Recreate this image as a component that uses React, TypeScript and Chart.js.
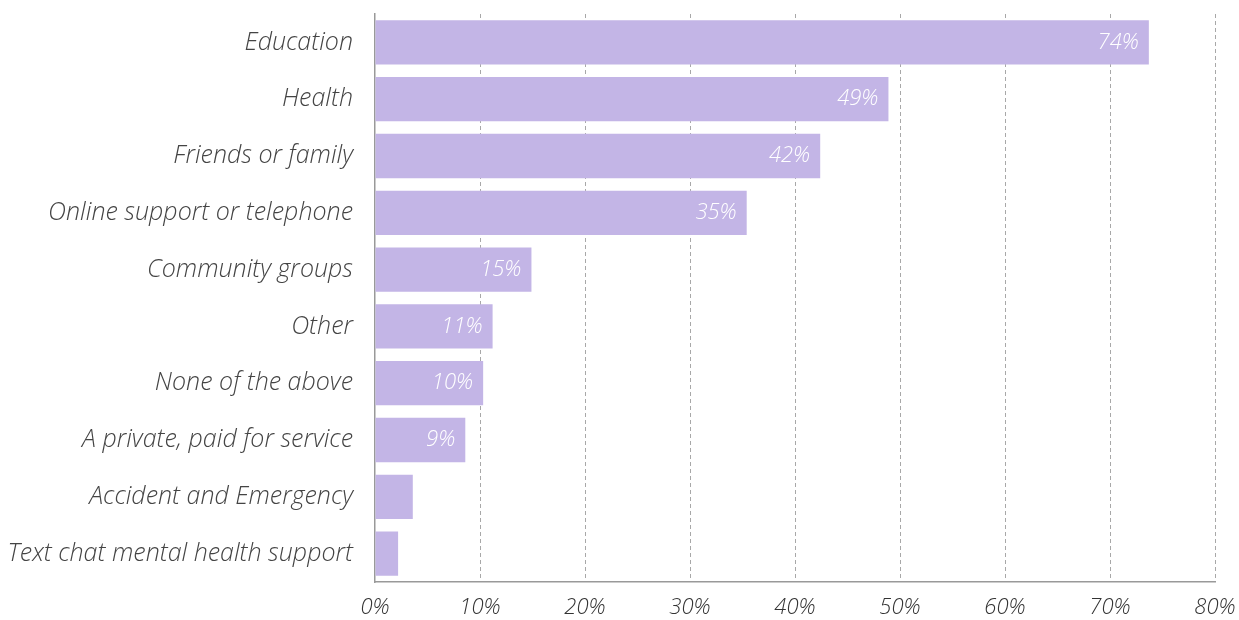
import React, { useEffect, useRef } from "react";
import { Chart, registerables } from "chart.js";

Chart.register(...registerables);

const categories = [
  "Education",
  "Health",
  "Friends or family",
  "Online support or telephone",
  "Community groups",
  "Other",
  "None of the above",
  "A private, paid for service",
  "Accident and Emergency",
  "Text chat mental health support",
];
const values = [73.7, 48.9, 42.4, 35.4, 14.9, 11.2, 10.3, 8.6, 3.6, 2.2];
const valueLabels = ["74%", "49%", "42%", "35%", "15%", "11%", "10%", "9%", "", ""];
const xTicks = [0, 10, 20, 30, 40, 50, 60, 70, 80];

const FONT = "'Open Sans'";

const barLabelPlugin = {
  id: "barLabels",
  afterDatasetsDraw(chart: any) {
    const ctx = chart.ctx;
    const meta = chart.getDatasetMeta(0);
    ctx.save();
    ctx.fillStyle = "#ffffff";
    ctx.font = `italic 300 22px ${FONT}`;
    ctx.textAlign = "right";
    ctx.textBaseline = "middle";
    meta.data.forEach((bar: any, i: number) => {
      const t = valueLabels[i];
      if (!t) return;
      ctx.fillText(t, bar.x - 10, bar.y);
    });
    ctx.restore();
  },
};

export default function App() {
  const ref = useRef<HTMLCanvasElement>(null);
  useEffect(() => {
    document.body.style.margin = "0";
    const chart = new Chart(ref.current!, {
      type: "bar",
      data: {
        labels: categories,
        datasets: [
          {
            data: values,
            backgroundColor: "#c3b5e6",
            borderWidth: 0,
            barPercentage: 0.78,
            categoryPercentage: 1,
          },
        ],
      },
      options: {
        indexAxis: "y",
        animation: false,
        responsive: false,
        maintainAspectRatio: false,
        layout: { padding: { top: 14, left: 0, right: 24, bottom: 0 } },
        plugins: { legend: { display: false }, tooltip: { enabled: false } },
        scales: {
          x: {
            min: 0,
            max: 80,
            afterBuildTicks: (scale: any) => {
              scale.ticks = xTicks.map((v) => ({ value: v }));
            },
            afterFit: (scale: any) => {
              scale.height = 38;
              scale.paddingLeft = 0;
              scale.paddingRight = 0;
            },
            ticks: {
              callback: (v: any) => v + "%",
              color: "#333",
              font: { family: FONT, size: 22, style: "italic", weight: 300 },
              padding: 13,
              maxRotation: 0,
            },
            grid: {
              drawTicks: false,
              color: (c: any) => (c.tick && c.tick.value === 0 ? "rgba(0,0,0,0)" : "#a8a8a8"),
              lineWidth: 1,
            },
            border: { display: true, color: "#999", width: 1.5, dash: [4, 3] } as any,
          },
          y: {
            afterFit: (scale: any) => {
              scale.width = 375;
              scale.paddingTop = 0;
              scale.paddingBottom = 0;
            },
            ticks: {
              color: "#444",
              font: { family: FONT, size: 25, style: "italic", weight: 300 },
              padding: 22,
            },
            grid: { display: false, drawTicks: false },
            border: { display: true, color: "#999", width: 1.5 },
          },
        },
      } as any,
      plugins: [barLabelPlugin],
    });
    return () => chart.destroy();
  }, []);
  return (
    <div style={{ position: "absolute", left: 0, top: 0, width: 1239, height: 620 }}>
      <canvas ref={ref} width={1239} height={620} />
    </div>
  );
}
